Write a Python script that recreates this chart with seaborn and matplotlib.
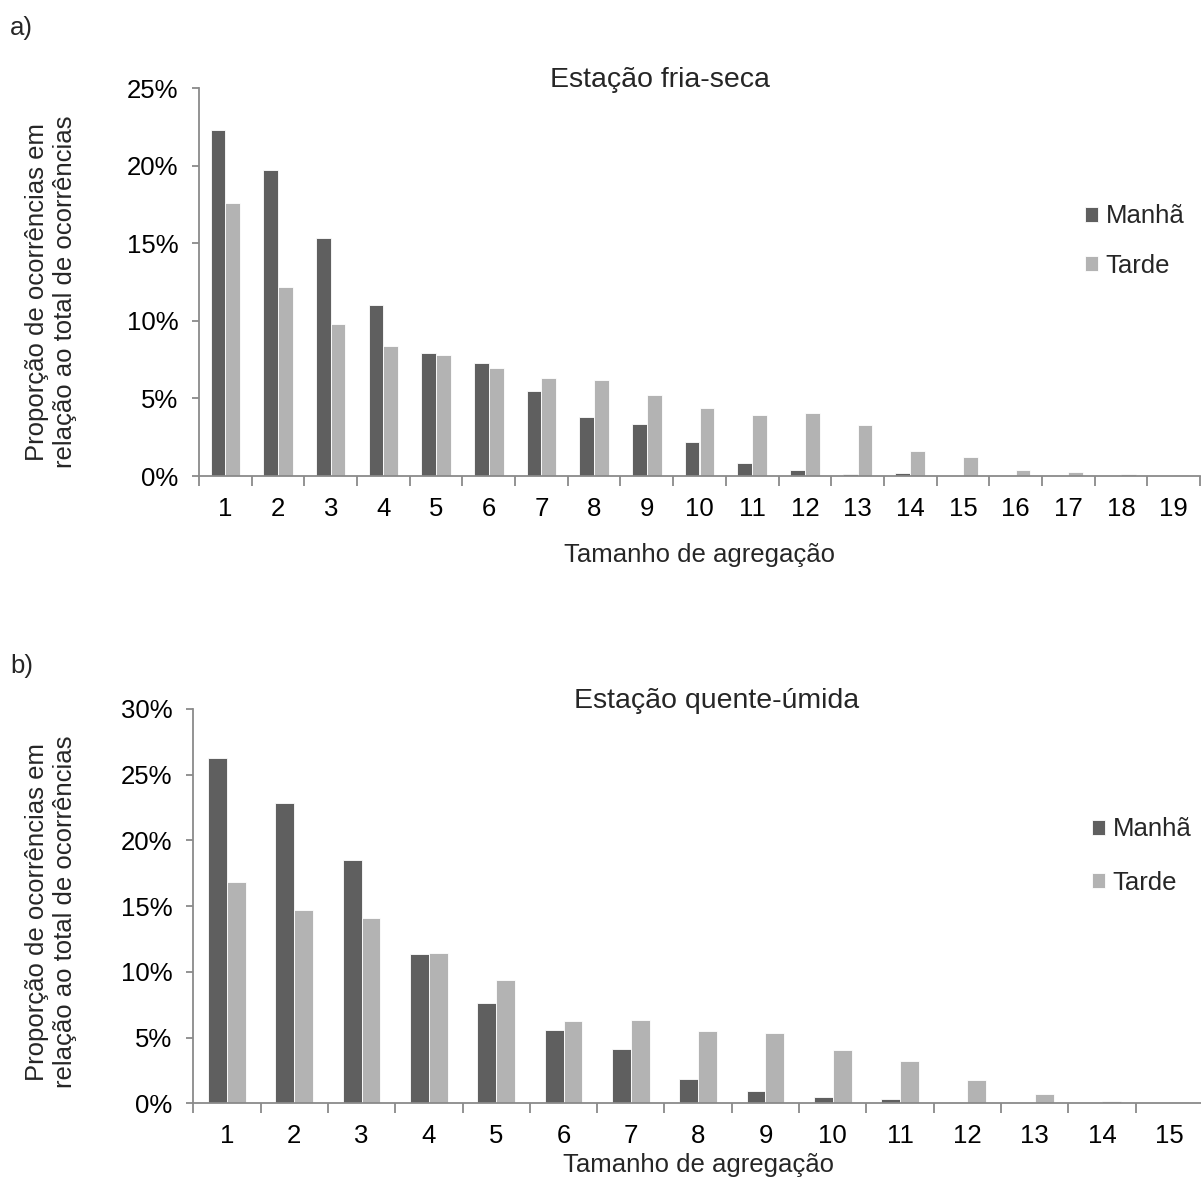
import numpy as np
import pandas as pd
import matplotlib
matplotlib.use("Agg")
import matplotlib.pyplot as plt
from matplotlib.ticker import FixedLocator, FuncFormatter
import seaborn as sns

# Proportion of occurrences (%) by aggregation size
series_names = ["Manhã", "Tarde"]

sizes_dry = [str(i) for i in range(1, 20)]
manha_dry = [22.3, 19.7, 15.35, 11.0, 7.93, 7.28, 5.47, 3.83, 3.36, 2.22,
             0.82, 0.41, 0.13, 0.19, 0.0, 0.0, 0.0, 0.0, 0.0]
tarde_dry = [17.6, 12.2, 9.82, 8.4, 7.8, 6.93, 6.33, 6.18, 5.23, 4.41,
             3.92, 4.09, 3.31, 1.61, 1.21, 0.41, 0.26, 0.13, 0.05]

sizes_wet = [str(i) for i in range(1, 16)]
manha_wet = [26.3, 22.84, 18.51, 11.35, 7.6, 5.55, 4.1, 1.85, 0.97, 0.45,
             0.33, 0.13, 0.0, 0.0, 0.0]
tarde_wet = [16.8, 14.69, 14.13, 11.47, 9.35, 6.23, 6.33, 5.52, 5.35, 4.05,
             3.22, 1.77, 0.72, 0.15, 0.1]

titles = ["Estação fria-seca", "Estação quente-úmida"]
panel_tags = ["a)", "b)"]
x_label = "Tamanho de agregação"
y_label = "Proporção de ocorrências em\nrelação ao total de ocorrências"

palette = {"Manhã": "#5f5f5f", "Tarde": "#b3b3b3"}
axis_grey = "#8a8a8a"
FS = 18.5
FS_TITLE = 20.5

sns.set_theme(style="white")
plt.rcParams["font.family"] = ["Liberation Sans", "DejaVu Sans"]

W, H = 1201, 1187
fig = plt.figure(figsize=(W / 100, H / 100), dpi=100)


def px_axes(left, top, right, bottom):
    return fig.add_axes([left / W, 1 - bottom / H, (right - left) / W, (bottom - top) / H])


def long_frame(sizes, manha, tarde):
    return pd.DataFrame({
        "size": sizes * 2,
        "value": list(manha) + list(tarde),
        "period": [series_names[0]] * len(sizes) + [series_names[1]] * len(sizes),
    })


panels = [
    dict(box=(199, 88, 1200, 476), sizes=sizes_dry, m=manha_dry, t=tarde_dry,
         ymax=25, title_x=660, title_y=70, xlab_y=555, ylab_x=51, ylab_y=292,
         tag_y=28, leg=(1085, 241), legsp=1.0),
    dict(box=(193.3, 709, 1203, 1103.3), sizes=sizes_wet, m=manha_wet, t=tarde_wet,
         ymax=30, title_x=717, title_y=690, xlab_y=1165, ylab_x=51, ylab_y=912,
         tag_y=666, leg=(1092, 856), legsp=1.15),
]

for i, p in enumerate(panels):
    left, top, right, bottom = p["box"]
    ax = px_axes(left, top, right, bottom)
    df = long_frame(p["sizes"], p["m"], p["t"])
    sns.barplot(data=df, x="size", y="value", hue="period", order=p["sizes"],
                hue_order=series_names, palette=palette, width=0.56,
                edgecolor="white", linewidth=0.6, saturation=1, ax=ax, legend=True)
    n = len(p["sizes"])
    ax.set_xlim(-0.5, n - 0.5)
    ax.set_ylim(0, p["ymax"])

    for side in ["top", "right"]:
        ax.spines[side].set_visible(False)
    for side in ["left", "bottom"]:
        ax.spines[side].set_color(axis_grey)
        ax.spines[side].set_linewidth(1.3)

    ax.yaxis.set_major_locator(FixedLocator(np.arange(0, p["ymax"] + 0.1, 5)))
    ax.yaxis.set_major_formatter(FuncFormatter(lambda v, _: f"{v:.0f}%"))
    ax.tick_params(axis="y", which="major", direction="out", length=5, width=1.3,
                   color=axis_grey, left=True, pad=10, labelsize=FS, labelcolor="black")
    ax.xaxis.set_minor_locator(FixedLocator(np.arange(-0.5, n, 1.0)))
    ax.tick_params(axis="x", which="major", length=0, pad=15, labelsize=FS,
                   labelcolor="black")
    ax.tick_params(axis="x", which="minor", direction="out", length=7, width=1.3,
                   color=axis_grey, bottom=True)

    ax.set_xlabel(x_label, fontsize=FS)
    ax.xaxis.set_label_coords(0.5, -(p["xlab_y"] - bottom) / (bottom - top))
    ax.xaxis.label.set_va("center")
    ax.set_ylabel(y_label, fontsize=FS, linespacing=1.2)
    ax.yaxis.set_label_coords((p["ylab_x"] - left) / (right - left),
                              (bottom - p["ylab_y"]) / (bottom - top))
    ax.yaxis.label.set_va("center")

    ax.set_title(titles[i], fontsize=FS_TITLE)
    ax.title.set_position(((p["title_x"] - left) / (right - left), 1))
    ax.title.set_va("center")
    ax.title.set_y(1 + (top - p["title_y"]) / (bottom - top))

    handles, labels = ax.get_legend_handles_labels()
    ax.legend(handles, labels, loc="center left",
              bbox_to_anchor=(p["leg"][0] / W, 1 - p["leg"][1] / H),
              bbox_transform=fig.transFigure, frameon=False, fontsize=FS,
              handlelength=0.52, handleheight=0.52, handletextpad=0.28,
              labelspacing=p["legsp"], borderpad=0, borderaxespad=0)

    fig.text(10 / W, 1 - p["tag_y"] / H, panel_tags[i], fontsize=FS,
             ha="left", va="center")

fig.savefig("out.png", dpi=100, facecolor="white")
